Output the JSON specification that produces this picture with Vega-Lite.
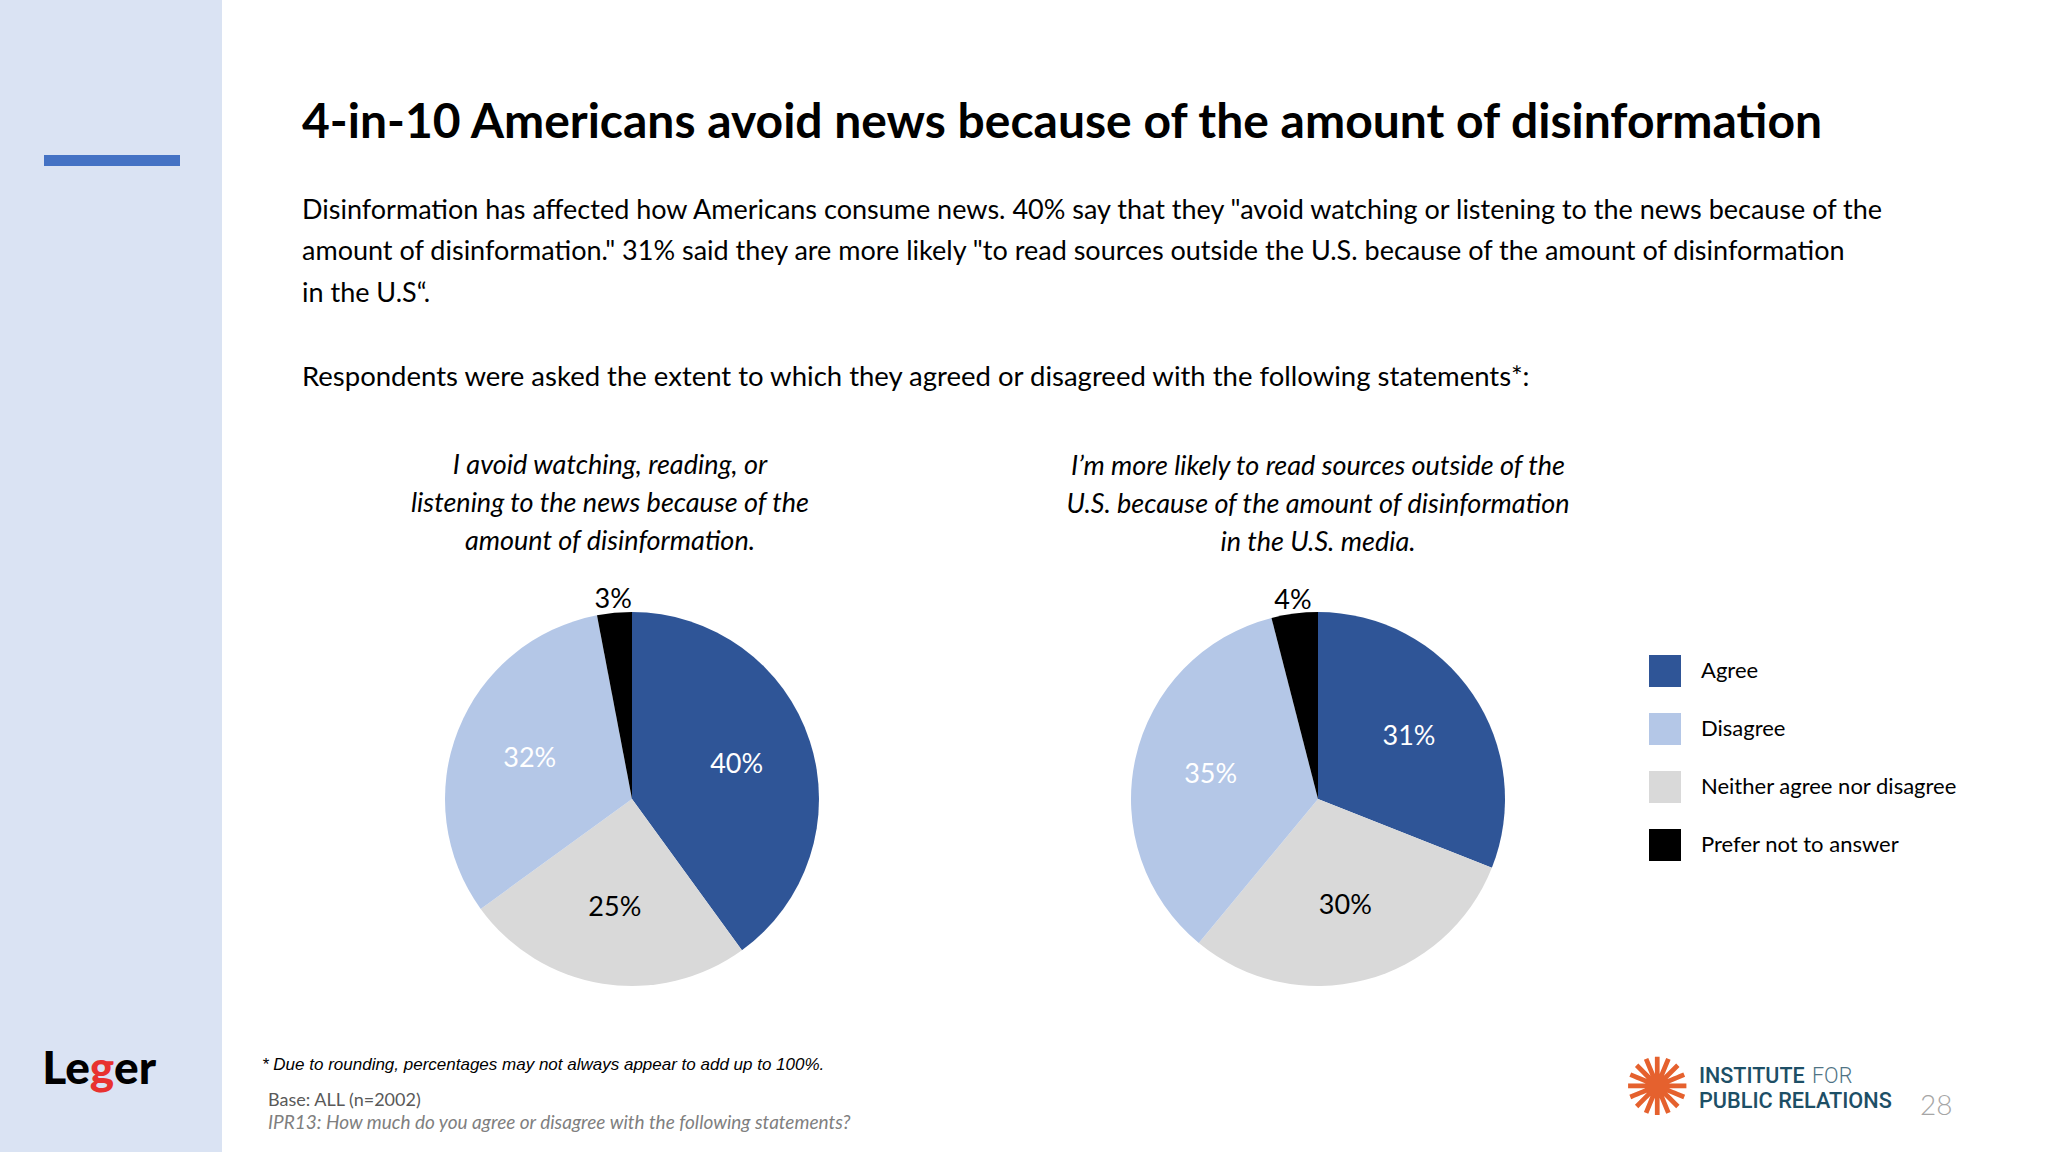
{
  "$schema": "https://vega.github.io/schema/vega-lite/v6.json",
  "background": "#ffffff",
  "padding": 0,
  "spacing": 40,
  "config": {
    "view": {"stroke": null},
    "font": "Lato",
    "text": {"font": "Lato"}
  },
  "datasets": {
    "responses": [
      {"statement": "avoid", "response": "Agree", "share": 0.40},
      {"statement": "avoid", "response": "Neither agree nor disagree", "share": 0.25},
      {"statement": "avoid", "response": "Disagree", "share": 0.32},
      {"statement": "avoid", "response": "Prefer not to answer", "share": 0.03},
      {"statement": "outside", "response": "Agree", "share": 0.31},
      {"statement": "outside", "response": "Neither agree nor disagree", "share": 0.30},
      {"statement": "outside", "response": "Disagree", "share": 0.35},
      {"statement": "outside", "response": "Prefer not to answer", "share": 0.04}
    ]
  },
  "hconcat": [
    {
      "width": 222,
      "height": 1152,
      "view": {"fill": "#DAE3F3", "stroke": null},
      "data": {"values": [{}]},
      "layer": [
        {"mark": {"type": "rect", "color": "#4472C4", "x": 44, "x2": 180, "y": 155, "y2": 166}, "encoding": {}},
        {"mark": {"type": "text", "text": "Le", "font": "Lato", "fontWeight": 900, "fontSize": 46, "align": "right", "baseline": "alphabetic", "x": 90, "y": 1084, "color": "#000000"}, "encoding": {}},
        {"mark": {"type": "text", "text": "g", "font": "Lato", "fontWeight": 900, "fontSize": 46, "align": "center", "baseline": "alphabetic", "x": 102, "y": 1084, "color": "#E8322F"}, "encoding": {}},
        {"mark": {"type": "text", "text": "er", "font": "Lato", "fontWeight": 900, "fontSize": 46, "align": "left", "baseline": "alphabetic", "x": 114, "y": 1084, "color": "#000000"}, "encoding": {}}
      ]
    },
    {
      "spacing": 59,
      "vconcat": [
        {
          "width": 1700,
          "height": 391,
          "data": {"values": [{}]},
          "layer": [
            {"mark": {"type": "text", "text": "4-in-10 Americans avoid news because of the amount of disinformation", "font": "Lato", "fontWeight": "bold", "fontSize": 48, "align": "left", "baseline": "alphabetic", "x": 40, "y": 138, "color": "#000000"}, "encoding": {}},
            {"mark": {"type": "text", "text": "Disinformation has affected how Americans consume news. 40% say that they \"avoid watching or listening to the news because of the", "font": "Lato", "fontSize": 27, "align": "left", "baseline": "alphabetic", "x": 40, "y": 219, "color": "#000000"}, "encoding": {}},
            {"mark": {"type": "text", "text": "amount of disinformation.\" 31% said they are more likely \"to read sources outside the U.S. because of the amount of disinformation", "font": "Lato", "fontSize": 27, "align": "left", "baseline": "alphabetic", "x": 40, "y": 260, "color": "#000000"}, "encoding": {}},
            {"mark": {"type": "text", "text": "in the U.S“.", "font": "Lato", "fontSize": 27, "align": "left", "baseline": "alphabetic", "x": 40, "y": 302, "color": "#000000"}, "encoding": {}},
            {"mark": {"type": "text", "text": "Respondents were asked the extent to which they agreed or disagreed with the following statements*:", "font": "Lato", "fontSize": 27.5, "align": "left", "baseline": "alphabetic", "x": 40, "y": 386, "color": "#000000"}, "encoding": {}}
          ]
        },
        {
          "spacing": 64,
          "resolve": {"scale": {"theta": "independent"}},
          "hconcat": [
            {
              "width": 740,
              "height": 374,
              "title": {
                "text": ["I avoid watching, reading, or", "listening to the news because of the", "amount of disinformation."],
                "font": "Lato", "fontStyle": "italic", "fontWeight": "normal", "fontSize": 27, "lineHeight": 38, "color": "#000000", "dx": -22, "offset": 30
              },
              "data": {"name": "responses"},
              "transform": [
                {"filter": "datum.statement === 'avoid'"},
                {"window": [{"op": "row_number", "as": "slice"}]}
              ],
              "layer": [
                {
                  "mark": {"type": "arc", "strokeWidth": 0},
                  "encoding": {
                    "theta": {"field": "share", "type": "quantitative", "stack": true},
                    "order": {"field": "slice", "type": "quantitative"},
                    "color": {
                      "field": "response", "type": "nominal",
                      "scale": {"domain": ["Agree", "Disagree", "Neither agree nor disagree", "Prefer not to answer"], "range": ["#2F5597", "#B4C7E7", "#D9D9D9", "#000000"]},
                      "legend": {"orient": "none", "legendX": 1649, "legendY": 655, "title": null, "symbolType": "square", "symbolSize": 1024, "symbolStrokeWidth": 0, "symbolOpacity": 1, "labelFont": "Lato", "labelFontSize": 22, "labelLimit": 0, "labelColor": "#000000", "rowPadding": 26, "labelOffset": 20}
                    }
                  }
                },
                {
                  "mark": {"type": "text", "font": "Lato", "fontSize": 27},
                  "encoding": {
                    "theta": {"field": "share", "type": "quantitative", "stack": true},
                    "order": {"field": "slice", "type": "quantitative"},
                    "detail": {"field": "response", "type": "nominal"},
                    "radius": {"field": "share", "type": "quantitative", "scale": {"domain": [0.04, 0.06], "range": [200, 110], "clamp": true, "zero": false}},
                    "text": {"field": "share", "type": "quantitative", "format": ".0%"},
                    "color": {"condition": {"test": "datum.response === 'Agree' || datum.response === 'Disagree'", "value": "#ffffff"}, "value": "#000000"}
                  }
                }
              ]
            },
            {
              "width": 374,
              "height": 374,
              "title": {
                "text": ["I’m more likely to read sources outside of the", "U.S. because of the amount of disinformation", "in the U.S. media."],
                "font": "Lato", "fontStyle": "italic", "fontWeight": "normal", "fontSize": 27, "lineHeight": 38, "color": "#000000", "offset": 30
              },
              "data": {"name": "responses"},
              "transform": [
                {"filter": "datum.statement === 'outside'"},
                {"window": [{"op": "row_number", "as": "slice"}]}
              ],
              "layer": [
                {
                  "mark": {"type": "arc", "strokeWidth": 0},
                  "encoding": {
                    "theta": {"field": "share", "type": "quantitative", "stack": true},
                    "order": {"field": "slice", "type": "quantitative"},
                    "color": {"field": "response", "type": "nominal"}
                  }
                },
                {
                  "mark": {"type": "text", "font": "Lato", "fontSize": 27},
                  "encoding": {
                    "theta": {"field": "share", "type": "quantitative", "stack": true},
                    "order": {"field": "slice", "type": "quantitative"},
                    "detail": {"field": "response", "type": "nominal"},
                    "radius": {"field": "share", "type": "quantitative", "scale": {"domain": [0.04, 0.06], "range": [200, 110], "clamp": true, "zero": false}},
                    "text": {"field": "share", "type": "quantitative", "format": ".0%"},
                    "color": {"condition": {"test": "datum.response === 'Agree' || datum.response === 'Disagree'", "value": "#ffffff"}, "value": "#000000"}
                  }
                }
              ]
            }
          ]
        },
        {
          "width": 1700,
          "height": 95,
          "data": {"values": [{}]},
          "layer": [
            {"mark": {"type": "text", "text": "* Due to rounding, percentages may not always appear to add up to 100%.", "font": "Liberation Sans", "fontStyle": "italic", "fontSize": 17, "align": "left", "baseline": "alphabetic", "x": 0, "y": 25, "color": "#000000"}, "encoding": {}},
            {"mark": {"type": "text", "text": "Base: ALL (n=2002)", "font": "Lato", "fontSize": 18, "align": "left", "baseline": "alphabetic", "x": 6, "y": 61, "color": "#595959"}, "encoding": {}},
            {"mark": {"type": "text", "text": "IPR13: How much do you agree or disagree with the following statements?", "font": "Lato", "fontStyle": "italic", "fontSize": 19, "align": "left", "baseline": "alphabetic", "x": 6, "y": 84, "color": "#7F7F7F"}, "encoding": {}},
            {"mark": {"type": "text", "text": "✺", "font": "DejaVu Sans", "fontSize": 80, "align": "center", "baseline": "middle", "x": 1395, "y": 46, "color": "#E5612E"}, "encoding": {}},
            {"mark": {"type": "text", "text": "INSTITUTE", "font": "Roboto", "fontWeight": 500, "fontSize": 21.5, "align": "left", "baseline": "alphabetic", "x": 1437, "y": 38, "color": "#1D4F66"}, "encoding": {}},
            {"mark": {"type": "text", "text": "FOR", "font": "Roboto", "fontWeight": 300, "fontSize": 21.5, "align": "left", "baseline": "alphabetic", "x": 1550, "y": 38, "color": "#4F7384"}, "encoding": {}},
            {"mark": {"type": "text", "text": "PUBLIC RELATIONS", "font": "Roboto", "fontWeight": 500, "fontSize": 21.7, "align": "left", "baseline": "alphabetic", "x": 1437, "y": 63, "color": "#1D4F66"}, "encoding": {}},
            {"mark": {"type": "text", "text": "28", "font": "Lato", "fontWeight": 300, "fontSize": 28, "align": "left", "baseline": "alphabetic", "x": 1658, "y": 70, "color": "#A6A6A6"}, "encoding": {}}
          ]
        }
      ]
    }
  ]
}
